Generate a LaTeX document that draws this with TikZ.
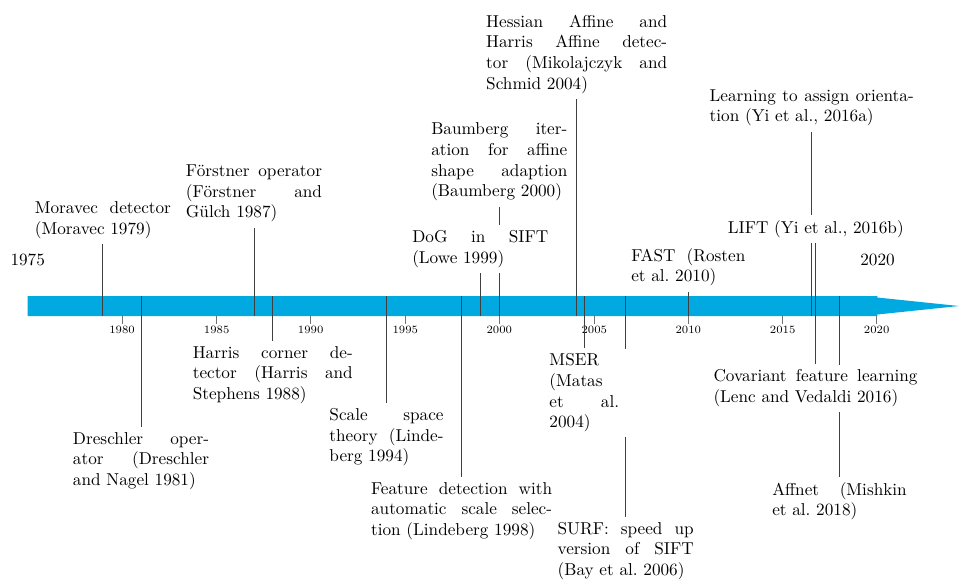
\documentclass[tikz,border=0pt]{standalone}
\usetikzlibrary{backgrounds}
\definecolor{barblue}{RGB}{0,169,224}
\begin{document}
\begin{tikzpicture}[x=0.5814pt, y=-0.5814pt,
  evline/.style={draw=black!75, line width=0.5pt},
  tickline/.style={draw=black!55, line width=0.5pt},
  ev/.style={fill=white, inner sep=3pt, text width=#1, align=justify},
  ticklab/.style={font=\fontsize{6.5}{7}\selectfont, inner sep=1pt, anchor=north},
  yearlab/.style={anchor=base, inner sep=0pt}]
\useasboundingbox (0,0) rectangle (959,579);
\coordinate (bartop) at (0,296);
\coordinate (barbot) at (0,316);

% year labels
\node[yearlab] (y1975) at (27.7,265) {1975};
\node[yearlab] (y2020) at (877.5,265) {2020};

% events above the bar
\node[ev=79.1pt, anchor=south] (moravec) at (102.9,244.3) {Moravec detector (Moravec 1979)};
\node[ev=79.1pt, anchor=south] (forstner) at (254,227.7) {Förstner operator (Förstner and Gülch 1987)};
\node[ev=79.1pt, anchor=south] (baumberg) at (499.3,206.7) {Baumberg iteration for affine shape adaption (Baumberg 2000)};
\node[ev=79.1pt, anchor=south] (dog) at (480.3,273) {DoG in SIFT (Lowe 1999)};
\node[ev=105.2pt, anchor=south] (hessian) at (576.7,99) {Hessian Affine and Harris Affine detector (Mikolajczyk and Schmid 2004)};
\node[ev=66.3pt, anchor=south] (fast) at (688.3,291.7) {FAST (Rosten et al.\ 2010)};
\node[ev=118.6pt, anchor=south] (learning) at (811.7,131.7) {Learning to assign orientation (Yi et al., 2016a)};
\node[fill=white, inner sep=3pt, anchor=south] (lift) at (815.8,243.3) {LIFT (Yi et al., 2016b)};

% events below the bar
\node[ev=79.1pt, anchor=north] (dreschler) at (141,426.7) {Dreschler operator (Dreschler and Nagel 1981)};
\node[ev=93pt, anchor=north] (harris) at (272.8,340.7) {Harris corner detector (Harris and Stephens 1988)};
\node[ev=66.3pt, anchor=north] (scale) at (386.5,403) {Scale space theory (Lindeberg 1994)};
\node[ev=105.2pt, anchor=north] (feature) at (461.6,476.7) {Feature detection with automatic scale selection (Lindeberg 1998)};
\node[ev=40.5pt, inner xsep=6pt, anchor=north] (mser) at (584.3,348.3) {MSER (Matas et al.\ 2004)};
\node[ev=79.1pt, anchor=north] (surf) at (625.7,516.7) {SURF: speed up version of SIFT (Bay et al.\ 2006)};
\node[ev=118.6pt, anchor=north] (covariant) at (815.5,364.3) {Covariant feature learning (Lenc and Vedaldi 2016)};
\node[ev=78.2pt, anchor=north] (affnet) at (839.5,476.7) {Affnet (Mishkin et al.\ 2018)};

\begin{scope}[on background layer]
  % timeline bar
  \fill[barblue] (27.7,296) -- (877.3,296) -- (877.3,297.5) -- (959,306)
    -- (877.3,314.5) -- (877.3,316) -- (27.7,316) -- cycle;
  % ticks
  \foreach \yr/\xx in {1980/122,1985/216.7,1990/310.7,1995/405.3,2000/499.3,
      2005/594.3,2010/688.3,2015/782.7,2020/876.7}{
    \draw[tickline] (\xx,316) -- (\xx,324) node[ticklab] (t\yr) {\yr};
  }
  % connectors
  \foreach \n in {moravec,forstner,baumberg,dog,hessian,fast,learning,lift}{
    \draw[evline] (\n.south) -- (\n.south |- barbot);
  }
  \foreach \n in {dreschler,harris,scale,feature,mser,surf,covariant,affnet}{
    \draw[evline] (\n.north) -- (\n.north |- bartop);
  }
\end{scope}
\end{tikzpicture}
\end{document}
